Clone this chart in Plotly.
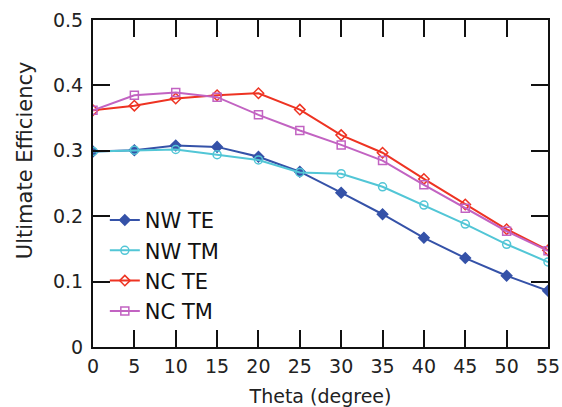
import plotly.graph_objects as go

theta = [0, 5, 10, 15, 20, 25, 30, 35, 40, 45, 50, 55]
nw_te = [0.299, 0.301, 0.308, 0.306, 0.291, 0.268, 0.236, 0.203, 0.167, 0.136, 0.109, 0.086]
nw_tm = [0.299, 0.301, 0.302, 0.294, 0.286, 0.267, 0.265, 0.245, 0.217, 0.188, 0.157, 0.130]
nc_te = [0.362, 0.369, 0.380, 0.385, 0.388, 0.363, 0.324, 0.297, 0.257, 0.218, 0.180, 0.148]
nc_tm = [0.362, 0.385, 0.389, 0.382, 0.355, 0.331, 0.309, 0.285, 0.248, 0.212, 0.177, 0.147]
y_ticks = [0, 0.1, 0.2, 0.3, 0.4, 0.5]
y_tick_labels = ["0", "0.1", "0.2", "0.3", "0.4", "0.5"]

series = [
    ("NW TE", nw_te, "#3552a8", "diamond"),
    ("NW TM", nw_tm, "#52c6d6", "circle-open"),
    ("NC TE", nc_te, "#ee3322", "diamond-open"),
    ("NC TM", nc_tm, "#c263c2", "square-open"),
]

fig = go.Figure()
for name, vals, color, sym in series:
    fig.add_trace(go.Scatter(
        x=theta, y=vals, name=name, mode="lines+markers",
        line=dict(color=color, width=2),
        marker=dict(symbol=sym, size=8, color=color, line=dict(color=color, width=1.5)),
    ))

font = "DejaVu Sans, Verdana, sans-serif"
axis_common = dict(
    showline=True, linecolor="#111", linewidth=2, mirror="ticks",
    ticks="inside", ticklen=17, tickwidth=2, tickcolor="#111",
    showgrid=False, zeroline=False, automargin=False,
    tickfont=dict(family=font, size=19, color="#222"),
)
fig.update_xaxes(range=[0, 55], tickvals=theta, ticklabelstandoff=1,
                 title=dict(text="Theta (degree)", font=dict(family=font, size=19, color="#222"), standoff=15),
                 **axis_common)
fig.update_yaxes(range=[0, 0.5], tickvals=y_ticks, ticktext=y_tick_labels, ticklabelstandoff=4,
                 **axis_common)

fig.add_annotation(text="Ultimate Efficiency", xref="paper", yref="paper",
                   x=-0.149, y=0.572, xanchor="center", yanchor="middle",
                   textangle=-90, showarrow=False,
                   font=dict(family=font, size=21, color="#222"))

fig.update_layout(
    width=562, height=407,
    margin=dict(l=93, r=14, t=20, b=60),
    plot_bgcolor="white", paper_bgcolor="white",
    legend=dict(x=0.026, y=0.45, xanchor="left", yanchor="top", bgcolor="rgba(0,0,0,0)",
                font=dict(family=font, size=21, color="#111"), itemwidth=30, tracegroupgap=0),
    showlegend=True,
)
fig.write_html("out.html", config={"displayModeBar": False})

with open("out.html", "r", encoding="utf-8") as f:
    html = f.read()
html = html.replace("<body>", '<body style="margin:0;padding:0;">', 1)
with open("out.html", "w", encoding="utf-8") as f:
    f.write(html)
